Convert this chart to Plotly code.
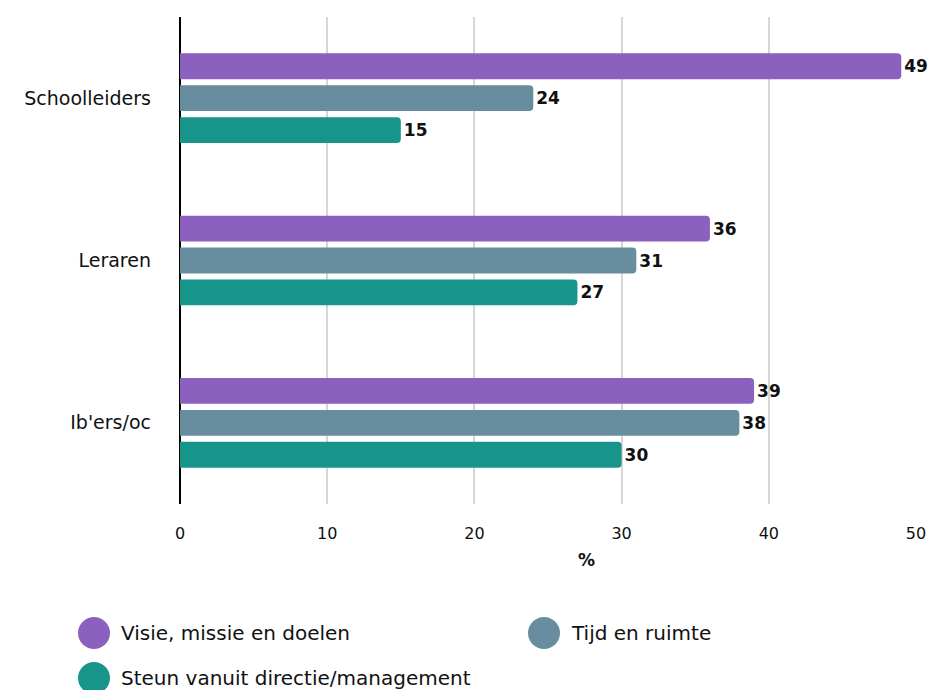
import plotly.graph_objects as go

categories = ["Schoolleiders", "Leraren", "Ib'ers/oc"]
series_names = ["Visie, missie en doelen", "Tijd en ruimte", "Steun vanuit directie/management"]
visie = [49, 36, 39]
tijd = [24, 31, 38]
steun = [15, 27, 30]
x_ticks = [0, 10, 20, 30, 40, 50]
colors = ["#8c60bf", "#678d9f", "#17958b"]

W, H = 937, 690
OFF = 8  # page body margin offset
ML, MR, MT, MB = 180 - OFF, 21 + OFF, 17 - OFF, 186 + OFF
PW, PH = W - ML - MR, H - MT - MB

def px_x(x):
    return (x - OFF - ML) / PW

def px_y(y):
    return (H - MB - (y - OFF)) / PH

FONT = "DejaVu Sans"
fig = go.Figure()
for name, vals, col in zip(series_names, [visie, tijd, steun], colors):
    fig.add_trace(go.Bar(
        y=categories, x=vals, name=name, orientation="h",
        marker=dict(color=col, line=dict(width=0)),
        text=vals, texttemplate="%{x}", textposition="outside",
        textfont=dict(family=FONT, size=17, color="#111111", weight=700),
        cliponaxis=False, showlegend=False,
    ))

fig.update_layout(
    width=W, height=H,
    margin=dict(l=ML, r=MR, t=MT, b=MB),
    paper_bgcolor="white", plot_bgcolor="white",
    barmode="group", bargap=0.41, bargroupgap=0.19, barcornerradius=4,
    font=dict(family=FONT, size=17, color="#111111"),
    xaxis=dict(range=[0, 50], tickvals=x_ticks, showgrid=True, gridcolor="#d6d6d6",
               gridwidth=2, zeroline=True, zerolinecolor="#000000", zerolinewidth=2,
               showline=False, ticks="", ticklabelstandoff=18,
               tickfont=dict(family=FONT, size=16, color="#111111")),
    yaxis=dict(autorange="reversed", showgrid=False, zeroline=False, showline=False,
               ticks="", ticklabelstandoff=28,
               tickfont=dict(family=FONT, size=19, color="#111111")),
)

fig.add_annotation(text="<b>%</b>", x=px_x(586), y=px_y(572), xref="paper", yref="paper",
                   showarrow=False, font=dict(family=FONT, size=17, color="#111111"))

legend_pos = [(94, 633), (544, 633), (94, 678)]
for (cx, cy), name, col in zip(legend_pos, series_names, colors):
    fig.add_shape(type="circle", xref="paper", yref="paper",
                  xsizemode="pixel", ysizemode="pixel",
                  xanchor=px_x(cx), yanchor=px_y(cy),
                  x0=-16, x1=16, y0=-16, y1=16,
                  fillcolor=col, line=dict(width=0))
    fig.add_annotation(text=name, x=px_x(cx + 25), y=px_y(cy), xref="paper", yref="paper",
                       xanchor="left", yanchor="middle", showarrow=False,
                       font=dict(family=FONT, size=20, color="#111111"))

fig.write_html("out.html")
